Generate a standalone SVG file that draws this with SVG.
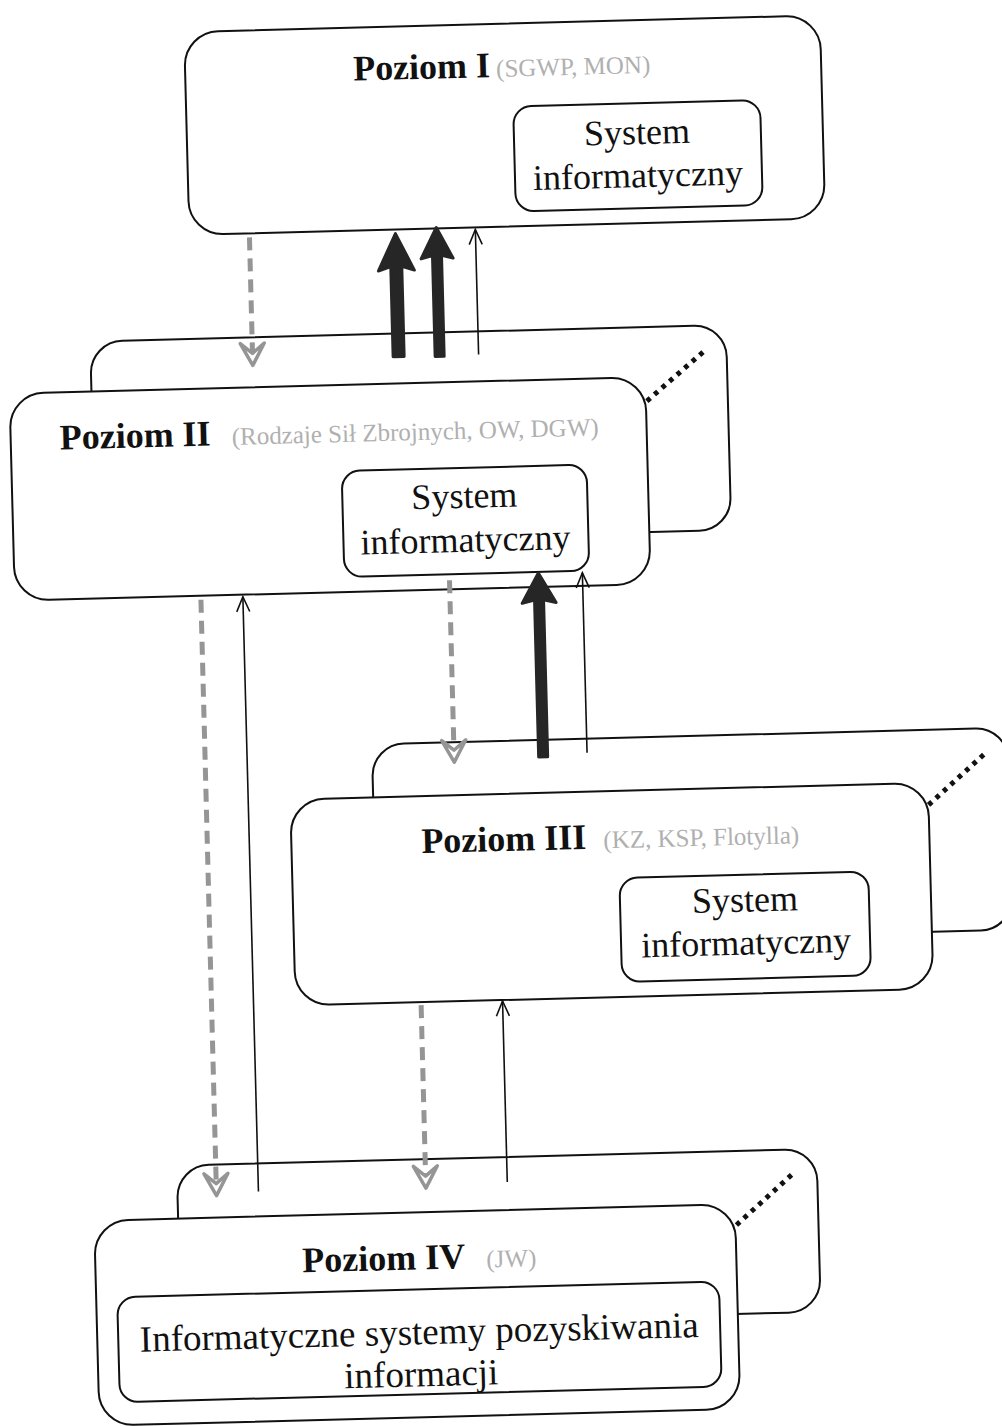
<svg xmlns="http://www.w3.org/2000/svg" width="1002" height="1426" viewBox="0 0 1002 1426">
<style>
.box{fill:#fff;stroke:#111;stroke-width:2}
.inner{fill:#fff;stroke:#111;stroke-width:2}
.title{font-family:"Liberation Serif","Times New Roman",serif;font-weight:bold;font-size:36px;fill:#111}
.cap{font-family:"Liberation Serif","Times New Roman",serif;font-size:25px;fill:#b0b0b0}
.txt{font-family:"Liberation Serif","Times New Roman",serif;font-size:36px;fill:#111;text-anchor:middle}
.dots{stroke:#111;stroke-width:5;stroke-dasharray:4.5 5.5;fill:none}
.dash{stroke:#959595;stroke-width:5;stroke-dasharray:13 8;fill:none}
.dhead{fill:#fff;stroke:#959595;stroke-width:3.5;stroke-linejoin:round}
.thick{fill:#262626;stroke:#262626;stroke-width:3;stroke-linejoin:round}
.thin{stroke:#111;stroke-width:1.6;fill:none}
</style>
<rect width="1002" height="1426" fill="#fff"/>
<g transform="rotate(-1.5 500 713)">
<g id="poziom1">
<rect class="box" x="202" y="24" width="636" height="203" rx="34"/>
<text class="title" x="370" y="77">Poziom I</text>
<text class="cap" x="513" y="77">(SGWP, MON)</text>
<rect class="inner" x="529" y="107" width="247" height="105" rx="18"/>
<text class="txt" x="652" y="148">System</text>
<text class="txt" x="652" y="191">informatyczny</text>
</g>
<g id="poziom2">
<rect class="box" x="100" y="331" width="636" height="205" rx="32"/>
<line class="dots" x1="655" y1="405" x2="713" y2="357"/>
<rect class="box" x="18" y="381" width="636" height="207" rx="34"/>
<text class="title" x="67" y="438">Poziom II</text>
<text class="cap" x="239" y="438">(Rodzaje Sił Zbrojnych, OW, DGW)</text>
<rect class="inner" x="348" y="467" width="245" height="106" rx="18"/>
<text class="txt" x="470" y="507">System</text>
<text class="txt" x="470" y="551">informatyczny</text>
</g>
<g id="poziom3">
<rect class="box" x="371" y="741" width="636" height="202" rx="32"/>
<line class="dots" x1="926" y1="816" x2="984" y2="766"/>
<rect class="box" x="288" y="794" width="638" height="206" rx="34"/>
<text class="title" x="418" y="851">Poziom III</text>
<text class="cap" x="600" y="851">(KZ, KSP, Flotylla)</text>
<rect class="inner" x="615" y="881" width="249" height="104" rx="18"/>
<text class="txt" x="740" y="918">System</text>
<text class="txt" x="740" y="961">informatyczny</text>
</g>
<g id="poziom4">
<rect class="box" x="165" y="1157" width="640" height="163" rx="32"/>
<line class="dots" x1="723" y1="1231" x2="782" y2="1180"/>
<rect class="box" x="81" y="1210" width="641" height="205" rx="34"/>
<text class="title" x="288" y="1267">Poziom IV</text>
<text class="cap" x="472" y="1267">(JW)</text>
<rect class="inner" x="102" y="1287" width="602" height="105" rx="18"/>
<text class="txt" x="403" y="1342" style="font-size:37px">Informatyczne systemy pozyskiwania</text>
<text class="txt" x="404" y="1384" style="font-size:37px">informacji</text>
</g>
<g id="connectors">
<line class="dash" x1="262" y1="231" x2="262" y2="345"/>
<path class="dhead" d="M250,337 L262,359 L274,337 L262,347 Z"/>
<path class="thick" d="M402.5,354 L402.5,264 L390,268 L408,231 L426,268 L413.5,264 L413.5,354 Z"/>
<path class="thick" d="M444.5,355 L444.5,254 L433,257 L449,226 L465,257 L453.5,254 L453.5,355 Z"/>
<line class="thin" x1="488" y1="354" x2="488" y2="229"/>
<path class="thin" d="M481.5,244 L488,229 L494.5,244"/>
<line class="dash" x1="204" y1="592" x2="204" y2="1174"/>
<path class="dhead" d="M192,1166 L204,1188 L216,1166 L204,1176 Z"/>
<line class="thin" x1="246" y1="1185" x2="246" y2="590"/>
<path class="thin" d="M239.5,605 L246,590 L252.5,605"/>
<line class="dash" x1="453" y1="579" x2="453" y2="747"/>
<path class="dhead" d="M441,739 L453,761 L465,739 L453,749 Z"/>
<path class="thick" d="M537.5,758 L537.5,601 L525,604 L542,574 L559,604 L546.5,601 L546.5,758 Z"/>
<line class="thin" x1="586" y1="755" x2="586" y2="575"/>
<path class="thin" d="M579.5,590 L586,575 L592.5,590"/>
<line class="dash" x1="413.5" y1="1003" x2="413.5" y2="1172"/>
<path class="dhead" d="M401.5,1164 L413.5,1186 L425.5,1164 L413.5,1174 Z"/>
<line class="thin" x1="495" y1="1182" x2="495" y2="1001"/>
<path class="thin" d="M488.5,1016 L495,1001 L501.5,1016"/>
</g>
</g>
</svg>
